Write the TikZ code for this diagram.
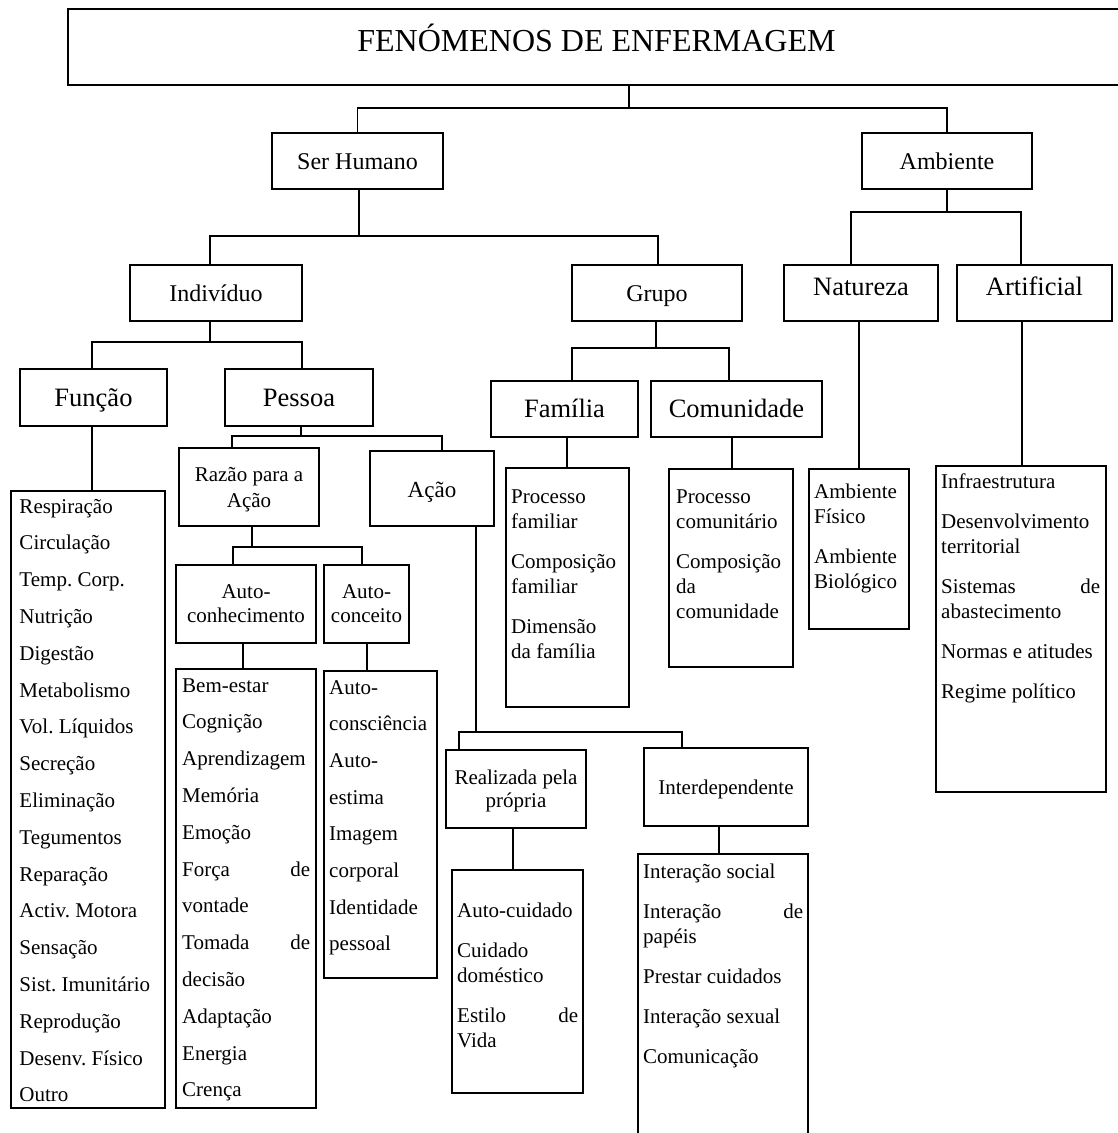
\documentclass[tikz,border=0pt]{standalone}
\usepackage{fontspec}
\setmainfont{Liberation Serif}
\frenchspacing

% box given by its corners (x1,y1)-(x2,y2), y growing downwards
\newcommand{\fbxnode}[7][]{%
  \node[boxst,#1,minimum width={(#5-#3)*1pt},minimum height={(#6-#4)*1pt}]
    (#2) at ({(#3+#5)/2},{(#4+#6)/2}) {#7};}
% list texts: one line per entry, or entries with several lines
\newcommand{\looselist}[2]{\parbox[t]{#1}{\fontsize{21}{36.8}\selectfont
  \setlength{\parskip}{0pt}\raggedright #2}}
\newcommand{\itemlist}[2]{\parbox[t]{#1}{\fontsize{21}{25}\selectfont
  \setlength{\parskip}{15pt}\raggedright #2}}
\newcommand{\spread}[2]{\makebox[\linewidth]{#1\hfill #2}}

\begin{document}
\begin{tikzpicture}[x=1pt,y=-1pt,
  boxst/.style={draw,line width=1.5pt,inner sep=0pt,align=center},
  conn/.style={line width=1.5pt},
  listtext/.style={anchor=base west,inner sep=0pt},
  titlest/.style={font=\fontsize{32}{38}\selectfont,text height=22pt,text depth=14pt},
  hA/.style={font=\fontsize{24}{28}\selectfont,text height=18pt,text depth=2pt},
  hB/.style={font=\fontsize{26.5}{30}\selectfont,text height=19.5pt,text depth=2pt},
  hBhi/.style={font=\fontsize{26.5}{30}\selectfont,text height=12pt,text depth=8pt},
  hAc/.style={font=\fontsize{23}{27}\selectfont,text height=19pt,text depth=2pt},
  hC/.style={font=\fontsize{21}{25}\selectfont,text height=17pt,text depth=2pt},
  hCm/.style={font=\fontsize{21}{#1}\selectfont,text depth=0pt},
]
\path[use as bounding box,fill=white] (0,0) rectangle (1118,1133);

% ---- title
\fbxnode[titlest]{title}{68}{9}{1125}{85}{FENÓMENOS DE ENFERMAGEM}

% ---- header boxes
\fbxnode[hA]{ser}{272}{133}{443}{189}{Ser Humano}
\fbxnode[hA]{amb}{862}{133}{1032}{189}{Ambiente}
\fbxnode[hA]{ind}{130}{265}{302}{321}{Indivíduo}
\fbxnode[hA]{grp}{572}{265}{742}{321}{Grupo}
\fbxnode[hBhi]{nat}{784}{265}{938}{321}{Natureza}
\fbxnode[hBhi]{art}{957}{265}{1112}{321}{Artificial}
\fbxnode[hB]{fun}{20}{369}{167}{426}{Função}
\fbxnode[hB]{pes}{225}{369}{373}{426}{Pessoa}
\fbxnode[hB]{fam}{491}{381}{638}{437}{Família}
\fbxnode[hB]{com}{651}{381}{822}{437}{Comunidade}
\fbxnode[hCm=26]{raz}{179}{448}{319}{526}{Razão para a\\Ação}
\fbxnode[hAc]{aca}{370}{451}{494}{526}{Ação}
\fbxnode[hCm=24]{acn}{176}{565}{316}{643}{Auto-\\conhecimento}
\fbxnode[hCm=24]{acc}{324}{565}{409}{643}{Auto-\\conceito}
\fbxnode[hCm=23]{rea}{446}{750}{586}{828}{Realizada pela\\própria}
\fbxnode[hC]{int}{644}{748}{808}{826}{Interdependente}

% ---- list boxes
\fbxnode{funl}{11}{491}{165}{1108}{}
\fbxnode{acnl}{176}{669}{316}{1108}{}
\fbxnode{accl}{324}{671}{437}{978}{}
\fbxnode{faml}{506}{468}{629}{707}{}
\fbxnode{coml}{669}{469}{793}{667}{}
\fbxnode{natl}{809}{469}{909}{629}{}
\fbxnode{artl}{936}{466}{1106}{792}{}
\fbxnode{real}{452}{870}{583}{1093}{}
\fbxnode{intl}{638}{854}{808}{1150}{}

% ---- list texts
\node[listtext] (funt) at (19.3,513) {\looselist{140pt}{Respiração\par Circulação\par
  Temp. Corp.\par Nutrição\par Digestão\par Metabolismo\par Vol. Líquidos\par
  Secreção\par Eliminação\par Tegumentos\par Reparação\par Activ. Motora\par
  Sensação\par Sist. Imunitário\par Reprodução\par Desenv. Físico\par Outro}};
\node[listtext] (acnt) at (182,692) {\looselist{128pt}{Bem-estar\par Cognição\par
  Aprendizagem\par Memória\par Emoção\par \spread{Força}{de}\par vontade\par
  \spread{Tomada}{de}\par decisão\par Adaptação\par Energia\par Crença}};
\node[listtext] (acct) at (329,694) {\parbox[t]{105pt}{\fontsize{21}{36.7}\selectfont
  \raggedright Auto-\par consciência\par Auto-\par estima\par Imagem\par corporal\par
  Identidade\par pessoal}};
\node[listtext] (famt) at (511,503) {\itemlist{115pt}{Processo\\familiar\par
  Composição\\familiar\par Dimensão\\da família}};
\node[listtext] (comt) at (676,503) {\itemlist{115pt}{Processo\\comunitário\par
  Composição\\da\\comunidade}};
\node[listtext] (natt) at (814,498) {\itemlist{92pt}{Ambiente\\Físico\par
  Ambiente\\Biológico}};
\node[listtext] (artt) at (941,488) {\itemlist{159pt}{Infraestrutura\par
  Desenvolvimento\\territorial\par \spread{Sistemas}{de}\\abastecimento\par
  Normas e atitudes\par Regime político}};
\node[listtext] (reat) at (457,917) {\itemlist{121pt}{Auto-cuidado\par
  Cuidado\\doméstico\par \spread{Estilo}{de}\\Vida}};
\node[listtext] (intt) at (643,878) {\itemlist{160pt}{Interação social\par
  \spread{Interação}{de}\\papéis\par Prestar cuidados\par Interação sexual\par
  Comunicação}};

% ---- connectors
\coordinate (j1) at (629,108);
\draw[conn] (j1 |- title.south) -- (j1);
\draw[conn] (ser.north) |- (j1) -| (amb.north);

\coordinate (j2) at (359,236);
\draw[conn] ([xshift=1.5pt]ser.south) -- (j2);
\draw[conn] ([xshift=-6pt]ind.north) |- (j2) -| ([xshift=1pt]grp.north);

\coordinate (j3) at (947,212);
\draw[conn] (amb.south) -- (j3);
\draw[conn] ([xshift=-10pt]nat.north) |- (j3) -| ([xshift=-13.5pt]art.north);

\coordinate (j4) at (210,342);
\draw[conn] ([xshift=-6pt]ind.south) -- (j4);
\draw[conn] ([xshift=-1.5pt]fun.north) |- (j4) -| ([xshift=3pt]pes.north);
\draw[conn] ([xshift=-1.5pt]fun.south) |- (funl.north);

\coordinate (j5) at (301,436);
\draw[conn] ([xshift=2pt]pes.south) -- (j5);
\draw[conn] ([xshift=-17pt]raz.north) |- (j5) -| ([xshift=10pt]aca.north);

\coordinate (j6) at (252,547);
\draw[conn] ([xshift=3pt]raz.south) -- (j6);
\draw[conn] ([xshift=-13pt]acn.north) |- (j6) -| ([xshift=-4.5pt]acc.north);
\draw[conn] ([xshift=-3pt]acn.south) |- (acnl.north);
\draw[conn] ([xshift=0.5pt]acc.south) |- (accl.north);

\coordinate (j7) at (476,732);
\draw[conn] ([xshift=44pt]aca.south) -- (j7);
\draw[conn] ([xshift=-57pt]rea.north) |- (j7) -| ([xshift=-44pt]int.north);
\draw[conn] ([xshift=-3pt]rea.south) |- (real.north);
\draw[conn] ([xshift=-7pt]int.south) |- (intl.north);

\coordinate (j8) at (656,348);
\draw[conn] ([xshift=-1pt]grp.south) -- (j8);
\draw[conn] ([xshift=7.5pt]fam.north) |- (j8) -| ([xshift=-7.5pt]com.north);
\draw[conn] ([xshift=2.5pt]fam.south) |- (faml.north);
\draw[conn] ([xshift=-4.5pt]com.south) |- (coml.north);

\draw[conn] ([xshift=-2pt]nat.south) |- (natl.north);
\draw[conn] ([xshift=-12.5pt]art.south) |- (artl.north);
\end{tikzpicture}
\end{document}
